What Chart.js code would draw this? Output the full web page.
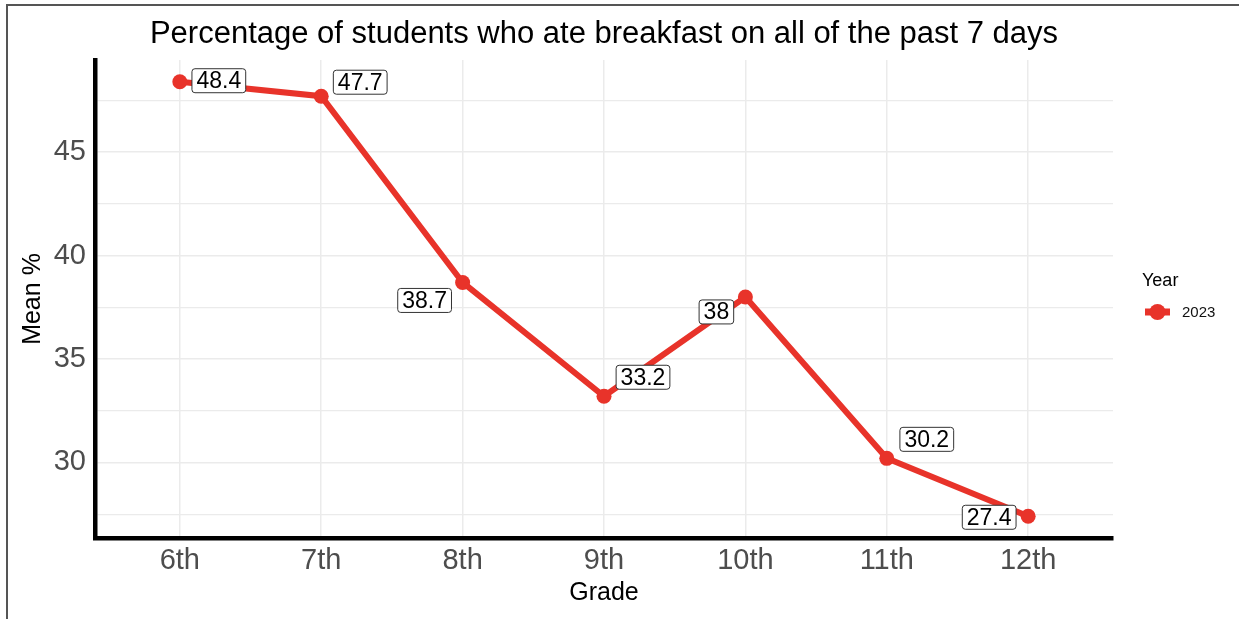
<!DOCTYPE html>
<html>
<head>
<meta charset="utf-8">
<script src="https://cdn.jsdelivr.net/npm/chart.js@4/dist/chart.umd.min.js"></script>
<style>
  html, body { margin: 0; padding: 0; background: #fff; }
  #wrap { position: relative; width: 1239px; height: 619px; }
  #frame { position: absolute; left: 6px; top: 4px; right: 0; bottom: 0; border-left: 2px solid #555; border-top: 2px solid #555; }
  canvas { position: absolute; left: 0; top: 0; }
</style>
</head>
<body>
<div id="wrap">
  <div id="frame"></div>
  <canvas id="breakfastChart" width="1239" height="619"></canvas>
</div>
<script>
// Datos del gráfico
const grades = ['6th', '7th', '8th', '9th', '10th', '11th', '12th'];
const meanPct = [48.4, 47.7, 38.7, 33.2, 38, 30.2, 27.4];
const seriesName = '2023';
const legendTitle = 'Year';

// desplazamiento de cada etiqueta respecto a su punto (px), como ggrepel
const labelNudge = [[39, -1], [39, -14], [-38, 18], [39, -19], [-29, 15], [40, -19], [-39, 1]];

const RED = '#e8332a';
const FONT = '"Liberation Sans", Arial, Helvetica, sans-serif';

// etiquetas con caja blanca sobre cada punto
const boxLabels = {
    id: 'boxLabels',
    afterDatasetsDraw(chart) {
        const ctx = chart.ctx;
        const meta = chart.getDatasetMeta(0);
        ctx.save();
        ctx.font = '23px ' + FONT;
        ctx.textAlign = 'center';
        ctx.textBaseline = 'middle';
        meta.data.forEach((pt, i) => {
            const txt = String(meanPct[i]);
            const w = ctx.measureText(txt).width + 9;
            const h = 24;
            const cx = pt.x + labelNudge[i][0];
            const cy = pt.y + labelNudge[i][1];
            ctx.beginPath();
            ctx.roundRect(cx - w / 2, cy - h / 2, w, h, 3);
            ctx.fillStyle = '#fff';
            ctx.fill();
            ctx.lineWidth = 1;
            ctx.strokeStyle = '#333';
            ctx.stroke();
            ctx.fillStyle = '#000';
            ctx.fillText(txt, cx, cy + 1);
        });
        ctx.restore();
    }
};

// leyenda a la derecha al estilo ggplot
const sideLegend = {
    id: 'sideLegend',
    afterDraw(chart) {
        const ctx = chart.ctx;
        const area = chart.chartArea;
        const x0 = area.right + 29;
        const yMid = (area.top + area.bottom) / 2;
        ctx.save();
        ctx.fillStyle = '#000';
        ctx.font = '18px ' + FONT;
        ctx.textBaseline = 'middle';
        ctx.fillText(legendTitle, x0, yMid - 18);
        ctx.strokeStyle = RED;
        ctx.lineWidth = 7;
        ctx.beginPath();
        ctx.moveTo(x0 + 3, yMid + 13);
        ctx.lineTo(x0 + 28, yMid + 13);
        ctx.stroke();
        ctx.fillStyle = RED;
        ctx.beginPath();
        ctx.arc(x0 + 15.5, yMid + 13, 8, 0, Math.PI * 2);
        ctx.fill();
        ctx.fillStyle = '#111';
        ctx.font = '15px ' + FONT;
        ctx.fillText(seriesName, x0 + 40, yMid + 14);
        ctx.restore();
    }
};

function createChart() {
    const ctx = document.getElementById('breakfastChart').getContext('2d');
    new Chart(ctx, {
        type: 'line',
        data: {
            datasets: [{
                label: seriesName,
                data: meanPct.map((v, i) => ({ x: i, y: v })),
                borderColor: RED,
                backgroundColor: RED,
                borderWidth: 6,
                pointRadius: 7.5,
                pointHoverRadius: 7.5,
                pointBorderWidth: 0,
                tension: 0
            }]
        },
        options: {
            responsive: false,
            animation: false,
            layout: { padding: { left: 0, right: 126, top: 0, bottom: 0 } },
            plugins: {
                legend: { display: false },
                tooltip: { enabled: false },
                title: {
                    display: true,
                    fullSize: false,
                    text: 'Percentage of students who ate breakfast on all of the past 7 days',
                    color: '#000',
                    font: { family: FONT, size: 31, weight: 'normal' },
                    padding: { top: 16, bottom: 6.8 }
                }
            },
            scales: {
                x: {
                    type: 'linear',
                    min: -0.6,
                    max: 6.6,
                    afterFit(scale) { scale.height = 81; },
                    ticks: {
                        stepSize: 1,
                        includeBounds: false,
                        color: '#4d4d4d',
                        font: { family: FONT, size: 29 },
                        padding: 6,
                        callback: v => (Number.isInteger(v) && grades[v]) ? grades[v] : ''
                    },
                    grid: { color: '#ebebeb', lineWidth: 1.5, drawTicks: false },
                    border: { color: '#000', width: 4.5 },
                    title: {
                        display: true,
                        text: 'Grade',
                        color: '#000',
                        font: { family: FONT, size: 25 },
                        padding: { top: 0, bottom: 11 }
                    }
                },
                y: {
                    min: 26.35,
                    max: 49.45,
                    afterFit(scale) { scale.width = 95; },
                    ticks: {
                        stepSize: 2.5,
                        includeBounds: false,
                        color: '#4d4d4d',
                        font: { family: FONT, size: 29 },
                        padding: 9,
                        callback: v => (v % 5 === 0) ? String(v) : ''
                    },
                    grid: {
                        color: '#ebebeb',
                        lineWidth: c => (c.tick && c.tick.value % 5 === 0) ? 1.5 : 1.2,
                        drawTicks: false
                    },
                    border: { color: '#000', width: 4.5 },
                    title: {
                        display: true,
                        text: 'Mean %',
                        color: '#000',
                        font: { family: FONT, size: 25 },
                        padding: { top: 18, bottom: 0 }
                    }
                }
            }
        },
        plugins: [boxLabels, sideLegend]
    });
}

window.onload = createChart;
</script>
</body>
</html>
